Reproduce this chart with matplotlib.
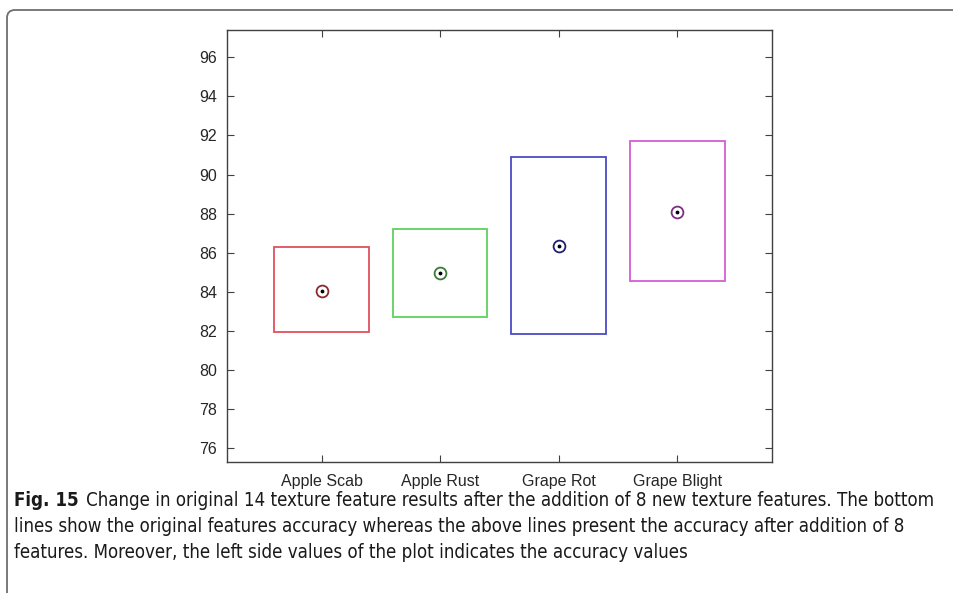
import matplotlib
matplotlib.use("Agg")
import numpy as np
import matplotlib.pyplot as plt
from matplotlib import font_manager as fm
from matplotlib.patches import FancyBboxPatch

# accuracy ranges per disease: bottom = original 14 features, top = after adding 8 new ones
categories = ['Apple Scab', 'Apple Rust', 'Grape Rot', 'Grape Blight']
lower = [81.95, 82.7, 81.85, 84.55]
upper = [86.3, 87.2, 90.9, 91.7]
mean = [84.05, 84.95, 86.35, 88.1]
yticks = [76, 78, 80, 82, 84, 86, 88, 90, 92, 94, 96]

box_colors = ['#e0505e', '#5fd05f', '#4b4bc8', '#d35fd3']
dot_colors = ['#8a2a30', '#3a7a3a', '#202070', '#7a3080']

caption_head = 'Fig. 15'
caption_lines = [
    'Change in original 14 texture feature results after the addition of 8 new texture features. The bottom',
    'lines show the original features accuracy whereas the above lines present the accuracy after addition of 8',
    'features. Moreover, the left side values of the plot indicates the accuracy values',
]

W, H = 954, 593
fig = plt.figure(figsize=(W / 100, H / 100), dpi=100)
ax = fig.add_axes([0.2376, 0.2214, 0.5716, 0.728])

x = np.arange(1, len(categories) + 1)
lo = np.array(lower)
hi = np.array(upper)
ax.bar(x, hi - lo, bottom=lo, width=0.8, fill=False,
       edgecolor=box_colors, linewidth=1.3)
for xi, m, c in zip(x, mean, dot_colors):
    ax.plot(xi, m, 'o', ms=8.5, mfc='none', mec=c, mew=1.3)
    ax.plot(xi, m, '.', ms=3.5, color='k')

ax.set_xlim(0.2, 4.8)
ax.set_ylim(75.3, 97.4)
ax.set_xticks(x)
ax.set_xticklabels(categories)
ax.set_yticks(yticks)
ax.tick_params(direction='in', length=5, width=0.8, color='#404040',
               top=True, right=True, labelsize=11.5, labelcolor='#262626')
ax.tick_params(axis='x', pad=9)
ax.tick_params(axis='y', pad=7)
for s in ax.spines.values():
    s.set_color('#404040')
    s.set_linewidth(1.0)
for lab in ax.get_xticklabels() + ax.get_yticklabels():
    lab.set_family('Liberation Sans')

# figure frame: top and left edges with a rounded corner
frame = FancyBboxPatch((0.07, -1.0), 20, 6.83,
                       boxstyle='round,pad=0,rounding_size=0.08',
                       transform=fig.dpi_scale_trans, fill=False,
                       edgecolor='#6e6e6e', linewidth=1.3, clip_on=False)
fig.patches.append(frame)

# caption font: prefer a narrow face if one is installed
faces = {(f.name, str(f.stretch)) for f in fm.fontManager.ttflist}
cap_font = dict(family=['DejaVu Sans'], color='#1a1a1a')
if any(n == 'Liberation Sans Narrow' for n, _ in faces):
    cap_font['family'] = ['Liberation Sans Narrow', 'DejaVu Sans']
elif ('DejaVu Sans', 'condensed') in faces or ('DejaVu Sans', '87.5') in faces:
    cap_font['fontstretch'] = 'condensed'

x_left = 14
x_right = 946
y0 = 1 - 501 / H
dy = 26 / H
renderer = fig.canvas.get_renderer()

size = 14
head = fig.text(x_left / W, y0, caption_head, fontweight='bold', va='center', size=size, **cap_font)
first = fig.text(0, y0, caption_lines[0], va='center', size=size, **cap_font)
gap = 8
hw = head.get_window_extent(renderer).width
fw = first.get_window_extent(renderer).width
size = size * (x_right - x_left - gap) / (hw + fw)
head.set_size(size)
first.set_size(size)
hb = head.get_window_extent(renderer)
first.set_x((hb.x1 + gap * size / 14) / W)
for i, line in enumerate(caption_lines[1:], start=1):
    fig.text(x_left / W, y0 - i * dy, line, va='center', size=size, **cap_font)

fig.savefig('out.png', dpi=100)
